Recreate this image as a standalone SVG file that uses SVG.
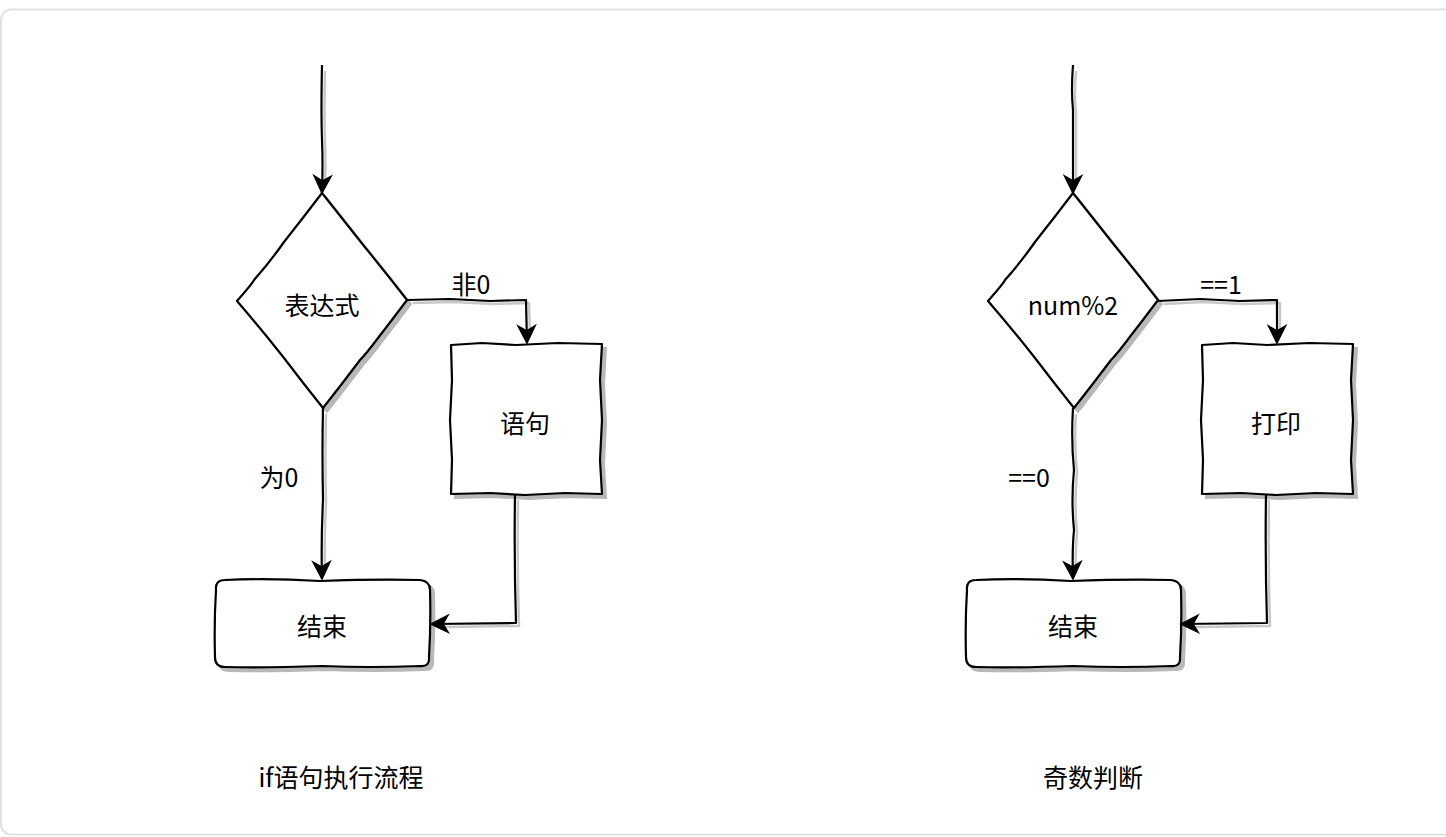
<svg xmlns="http://www.w3.org/2000/svg" xmlns:xlink="http://www.w3.org/1999/xlink" width="1446" height="837" viewBox="0 0 1446 837">
<style>
.shape{fill:#ffffff;stroke:#000000;stroke-width:2.2;stroke-linejoin:round}
.shadow{fill:#b8b8b8;stroke:#b8b8b8;stroke-width:2}
.edge{fill:none;stroke:#000000;stroke-width:2.2;stroke-linejoin:round}
.eshadow{fill:none;stroke:#c8c8c8;stroke-width:2.5;stroke-linejoin:round}
.lbl{font-family:"Noto Sans CJK SC","Noto Sans",sans-serif;font-size:25px;fill:#000000;text-anchor:middle;dominant-baseline:central}
</style>
<defs>
<marker id="arrow" markerUnits="userSpaceOnUse" viewBox="-20 -12 22 24" refX="0" refY="0" markerWidth="22" markerHeight="24" orient="auto">
<path d="M0,0 L-17,-8.5 L-12,0 L-17,8.5 Z" fill="#000000" stroke="#000000" stroke-width="1.5" stroke-linejoin="miter"/>
</marker>
<path id="diamond" d="M322,193 Q345,222 364,246 Q386,273 407,300 Q392,320 378,338 Q366,354 360,360 Q342,384 323,408 Q303,383 284,358 Q262,330 237,301 Q252,284 254,280 Q270,262 284,242 Q303,218 322,193 Z"/>
<path id="rect" d="M451,345 L482,343 L516,345 L558,343 L602,344 L600,380 L602,420 L600,460 L602,494 L565,493 L525,495 L490,493 L451,494 L452,460 L450,420 L452,380 Z"/>
<path id="rrect" d="M225,580 Q270,578 320,581 Q375,579 420,580 Q430,581 430,590 Q431,625 429,657 Q430,667 420,666 Q370,668 322,666 Q265,668 225,667 Q215,667 215,657 Q214,622 216,590 Q215,580 225,580 Z"/>
</defs>
<rect x="1" y="9.5" width="1460" height="825" rx="10" ry="10" fill="#ffffff" stroke="#e2e2e2" stroke-width="2"/>

<g id="nodes">
<g id="decision-left">
<use xlink:href="#diamond" class="shadow" transform="translate(4,4)"/>
<use xlink:href="#diamond" class="shape"/>
<text class="lbl" x="322" y="304">表达式</text>
</g>
<g id="stmt-left">
<use xlink:href="#rect" class="shadow" transform="translate(4,4)"/>
<use xlink:href="#rect" class="shape"/>
<text class="lbl" x="525" y="422">语句</text>
</g>
<g id="end-left">
<use xlink:href="#rrect" class="shadow" transform="translate(4,4)"/>
<use xlink:href="#rrect" class="shape"/>
<text class="lbl" x="322" y="625">结束</text>
</g>
<g id="decision-right" transform="translate(751,0)">
<use xlink:href="#diamond" class="shadow" transform="translate(4,4)"/>
<use xlink:href="#diamond" class="shape"/>
</g>
<text class="lbl" x="1073" y="304">num%2</text>
<g id="print-right" transform="translate(751,0)">
<use xlink:href="#rect" class="shadow" transform="translate(4,4)"/>
<use xlink:href="#rect" class="shape"/>
</g>
<text class="lbl" x="1276" y="422">打印</text>
<g id="end-right" transform="translate(751,0)">
<use xlink:href="#rrect" class="shadow" transform="translate(4,4)"/>
<use xlink:href="#rrect" class="shape"/>
</g>
<text class="lbl" x="1073" y="625">结束</text>
</g>

<g id="connectors">
<g class="eshadow" transform="translate(3,3)">
<path d="M322,68 Q321,110 322,140 Q323,165 322,182"/>
<path d="M410,300 L450,299 L490,301 L526,300 L527,332"/>
<path d="M323,411 Q322,450 323,500 Q321,540 322,568"/>
<path d="M515,497 Q514,560 516,623 L442,624"/>
<path d="M1073,68 Q1071,90 1073,110 Q1073,150 1073,182"/>
<path d="M1161,301 L1200,299 L1240,301 L1277,300 L1277,332"/>
<path d="M1073,411 Q1071,440 1074,470 Q1071,500 1074,530 Q1072,550 1073,568"/>
<path d="M1266,497 Q1265,560 1267,623 L1193,624"/>
</g>
<g class="edge">
<path d="M322,65 Q321,110 322,140 Q323,165 322,193" marker-end="url(#arrow)"/>
<path d="M407,300 L450,299 L490,301 L526,300 L527,343" marker-end="url(#arrow)"/>
<path d="M323,408 Q322,450 323,500 Q321,540 322,579" marker-end="url(#arrow)"/>
<path d="M515,494 Q514,560 516,623 L431,624" marker-end="url(#arrow)"/>
<path d="M1073,65 Q1071,90 1073,110 Q1073,150 1073,193" marker-end="url(#arrow)"/>
<path d="M1158,301 L1200,299 L1240,301 L1277,300 L1277,343" marker-end="url(#arrow)"/>
<path d="M1073,408 Q1071,440 1074,470 Q1071,500 1074,530 Q1072,550 1073,579" marker-end="url(#arrow)"/>
<path d="M1266,494 Q1265,560 1267,623 L1181,624" marker-end="url(#arrow)"/>
</g>
<text class="lbl" x="471" y="283">非0</text>
<text class="lbl" x="279" y="476">为0</text>
<text class="lbl" x="1221" y="283">==1</text>
<text class="lbl" x="1029" y="476">==0</text>
</g>

<g id="titles">
<text class="lbl" x="341" y="776">if语句执行流程</text>
<text class="lbl" x="1093" y="776">奇数判断</text>
</g>
</svg>
